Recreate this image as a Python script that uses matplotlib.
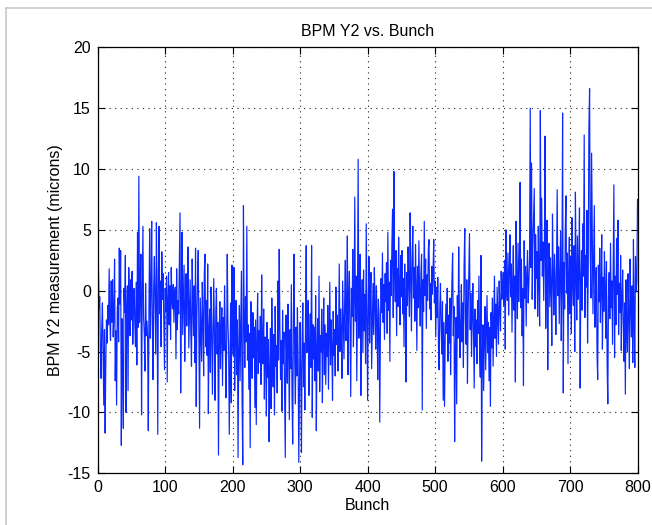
import matplotlib
matplotlib.use("Agg")
import matplotlib.pyplot as plt
from matplotlib.lines import Line2D
import numpy as np

plt.rcParams['font.family'] = ['Liberation Sans', 'DejaVu Sans']

title = "BPM Y2 vs. Bunch"
xlabel = "Bunch"
ylabel = "BPM Y2 measurement (microns)"
xticks = [0, 100, 200, 300, 400, 500, 600, 700, 800]
yticks = [-15, -10, -5, 0, 5, 10, 15, 20]

y2_values = [
    2.3, -1.5, -0.5, -4.8, -7.2, -3.1, -1.0, -5.5, -9.4, -3.2, -11.7, -6.0, -2.4, -4.3, -1.2, -2.8, 1.8, -2.5, -4.1, 0.8,
    -2.6, 0.9, -3.8, -1.9, 2.6, -7.4, -3.3, -9.4, -1.5, -0.6, -4.2, 3.5, -1.1, 3.3, -12.7, -2.3, -6.2, -11.3, 0.2, -1.8,
    2.9, -10.0, -1.6, 0.4, -8.2, 1.9, -0.6, -3.7, 0.9, -2.4, 1.6, -4.4, -0.9, 0.2, -2.7, -4.6, 0.7, -6.1, 4.8, -3.0,
    9.4, -2.6, 0.5, 3.0, -10.2, -0.4, 5.3, -2.2, -3.5, -6.6, 0.6, -3.7, -2.5, -4.0, -11.5, -1.2, 5.1, -3.9, 0.1, 5.7,
    -2.8, -7.3, 0.3, 2.8, -1.5, -5.2, 5.6, -0.3, -11.8, 1.7, 5.3, -1.9, 0.8, -4.6, 3.2, -0.7, 1.4, -2.3, -6.5, 0.2,
    -1.7, 1.2, -7.5, -0.6, 1.5, -2.8, 0.4, -4.0, 1.9, -0.9, -1.5, 0.5, -2.6, -0.2, 0.3, -5.6, 1.8, -3.2, -0.8, -1.9,
    2.0, 6.4, -8.4, -1.0, 4.8, -3.6, -0.5, 2.1, -5.8, -1.3, 1.4, -2.9, -0.1, 3.6, -4.7, -1.8, 0.9, -3.4, -6.2, 2.6,
    -1.2, -3.7, 0.4, -5.9, 3.5, -9.5, -2.1, 1.1, 3.3, -4.3, -11.3, -0.6, -3.1, -5.8, 0.7, -2.4, -7.0, 1.5, 3.0, -4.6,
    -0.8, -5.3, 2.2, -10.1, -3.4, -1.5, -6.7, 0.3, -2.9, -8.5, -4.1, 1.0, -3.6, -9.0, -1.7, 0.2, -5.2, -2.6, -13.5, -4.0,
    -0.9, -6.4, -3.1, -1.4, -7.8, -2.2, -4.9, 0.4, -3.3, -8.8, -5.1, 3.0, -2.7, -4.5, -11.8, -6.0, -1.0, -9.2, 2.1, -3.9,
    -5.3, 1.9, -8.2, -3.6, -0.8, -6.9, -2.4, -13.7, -4.8, -1.2, -7.4, -3.0, 1.6, -9.1, -14.3, 7.0, -2.1, -6.3, -0.5, -4.2,
    5.3, -5.7, -2.8, -8.1, -3.5, -12.9, -0.9, -4.6, -7.2, -1.8, -5.5, -3.0, -9.6, -2.4, -11.0, -4.2, -0.2, -6.8, -3.3, -5.9,
    -2.1, -7.7, 1.3, -4.4, -6.0, -1.5, -8.9, -3.8, -5.2, -10.3, -2.6, -7.1, -4.0, -12.4, -6.5, -3.1, -9.7, -0.6, -5.0, -7.9,
    -3.6, -10.2, -1.3, -6.2, -4.5, -8.4, 0.8, -5.7, 3.4, -2.9, -7.3, -4.1, -9.9, -1.6, -6.0, -3.4, -8.2, -13.7, -2.0, -5.3,
    -7.6, -1.1, -4.8, -10.6, -3.2, -6.4, 0.5, -8.7, -12.6, -2.5, 3.0, -5.9, -9.3, -3.0, -7.0, -1.4, -5.5, -14.1, -8.1, -2.6,
    -6.7, -13.3, -3.9, -1.0, -7.9, -4.3, -9.8, -2.2, 3.7, -5.1, -3.4, -0.8, -8.6, -4.7, -1.9, -6.3, 3.7, -10.4, -2.8, -5.6,
    -3.0, -7.4, -0.4, -11.5, -4.9, -2.3, -6.6, 1.2, -8.3, -3.7, -5.0, -1.5, -9.2, -4.1, -0.6, -6.9, -2.8, -7.7, -3.5, -5.4,
    -1.2, -8.1, -3.9, 0.7, -6.1, -2.4, -4.8, -9.0, -1.7, -5.3, -3.2, -7.0, 0.3, -4.4, -2.0, -6.6, -3.6, 2.2, -5.0, -1.5,
    -3.4, -7.2, 0.8, -2.6, -5.6, -0.9, 2.5, -4.1, -1.8, 4.5, -6.9, -0.5, 1.6, -3.3, -8.7, 0.2, -2.1, 3.4, -4.6, -1.0,
    7.7, -2.5, 1.2, -7.4, -0.8, 10.8, -3.9, -1.4, 3.0, -8.6, -2.0, 0.9, -5.1, 1.7, -3.3, -0.3, -6.0, 5.5, -2.2, -9.0,
    -1.5, 2.8, -4.3, -0.2, 1.5, -6.4, -2.9, 0.6, -3.6, 1.9, -1.1, -4.8, 0.4, -2.5, -7.3, -0.7, -2.0, -10.8, -3.2, 1.0,
    -1.8, 3.1, -2.6, 0.5, -4.0, 1.4, -0.9, 2.3, -3.5, 4.8, -1.6, 0.7, -5.8, 2.5, -0.4, 3.9, 6.7, -2.2, 9.8, 1.2,
    -0.9, 3.3, -3.7, 1.8, -1.3, 4.4, 0.2, -2.8, 2.9, -0.5, 3.3, -1.9, 1.0, -4.6, 2.2, -0.8, -7.5, 1.5, -1.2, 3.6,
    0.4, -2.1, 6.4, 1.1, -3.3, 2.7, 5.3, -0.6, 1.9, -2.5, 3.8, 0.3, -4.9, 2.0, -1.4, 4.1, -0.2, -2.9, 1.4, 3.0,
    -9.8, 0.9, -1.7, 5.7, -0.4, 2.6, -3.1, 1.3, -0.8, 3.4, 4.2, -1.5, 0.6, -2.4, 2.0, -0.3, 1.5, 4.2, -1.0, 0.8,
    -3.8, 0.3, -2.2, 1.1, -4.5, -6.5, -1.4, 0.6, -3.0, -5.2, -0.9, -9.0, -2.6, -9.5, -4.1, -1.1, -3.5, 0.2, -5.8, -2.0,
    -4.3, -0.6, -6.9, -2.4, 0.8, 3.1, -3.7, -1.3, -12.4, -5.0, -2.2, -9.3, -0.4, -3.9, 3.6, -1.6, -5.5, -2.8, 0.5, -4.2,
    -1.0, -6.3, 2.1, 5.1, -2.5, -4.4, 0.9, -7.6, -1.8, 1.7, 4.7, -3.2, -0.2, -5.4, -2.1, 0.6, -3.8, -8.0, -1.5, -4.6,
    -2.4, -6.0, -0.8, -3.5, 1.2, -4.9, -7.1, 2.9, -14.0, -5.5, -2.8, -8.2, -4.0, -1.3, -6.5, -3.2, -0.4, -5.1, -2.6, -7.4,
    -3.0, -9.5, -1.8, -4.7, -0.6, -6.2, -2.3, 1.2, -3.9, -1.1, -5.4, 0.3, -2.0, -4.4, 0.8, -1.5, -3.3, 1.6, -0.7, 0.2,
    1.5, -1.2, 2.5, -4.8, 5.0, 0.4, -0.8, 3.1, -2.0, 1.7, 4.6, -0.5, 2.2, -3.4, 0.9, 3.7, -1.6, 1.2, -7.5, 5.7,
    0.6, -2.3, 3.9, -0.9, 1.8, 8.9, -1.4, 2.6, -3.7, 0.2, -7.8, 4.1, -0.6, 2.0, -2.9, 1.3, 3.3, -1.0, 0.5, 2.7,
    15.0, 1.9, 10.5, -0.7, 3.8, 6.2, 8.4, -1.5, 4.6, 1.0, 3.2, -2.1, 5.3, 0.4, -2.9, 14.8, 2.5, 7.6, 1.2, 4.0,
    -0.8, 3.4, 12.7, -3.1, 2.1, 5.8, -6.5, 1.6, 3.9, -1.3, 2.7, 0.2, -4.5, 6.3, 1.4, -2.0, 3.0, 0.6, -3.6, 2.2,
    8.3, -0.4, 3.6, -2.7, 1.0, 4.9, -4.1, 0.8, 14.6, -8.4, 2.3, -1.5, 5.2, 7.8, -0.2, 3.1, -6.0, 1.7, 4.4, -1.9,
    2.8, -3.5, 6.0, 0.5, -1.2, 3.7, -5.0, 8.1, 1.3, -2.4, 4.5, -0.7, 2.0, 6.8, -8.0, 0.9, 3.3, -1.6, 5.5, 1.2,
    12.8, -2.2, 2.9, 0.3, 6.6, -4.3, 1.8, 13.5, 16.6, 3.0, -0.6, 11.3, 4.2, -1.9, 2.5, 7.0, -3.0, 0.7, 1.9, -5.2,
    -7.3, 2.1, -0.9, 3.5, -2.6, 0.4, 4.6, -4.8, 1.1, -1.7, 3.2, 0.0, -3.9, 2.4, -6.1, -9.3, -0.5, 1.5, -2.3, 3.9,
    -1.4, 0.8, -4.4, 2.0, 8.7, -5.5, 1.2, -2.8, 4.3, -0.3, 5.8, -3.6, 0.6, -1.8, 2.9, -4.9, -0.8, 1.7, -2.5, -5.8,
    -1.0, -8.5, 0.9, -3.2, -5.0, 1.4, -2.0, -6.4, 2.6, -1.3, -3.8, 0.4, -5.9, 4.2, -2.4, -6.3, 2.8, -0.1, 0.8, 7.5,
]
bunches = list(range(1, len(y2_values) + 1))

W, H = 652, 525
fig = plt.figure(figsize=(W / 100, H / 100), dpi=100)
fig.patch.set_facecolor('white')

# light figure frame (screenshot border)
fig.add_artist(Line2D([6 / W, 6 / W], [0, 1 - 8 / H], color='#c8c8c8', lw=1.2, transform=fig.transFigure))
fig.add_artist(Line2D([6 / W, 1], [1 - 8 / H, 1 - 8 / H], color='#c8c8c8', lw=1.2, transform=fig.transFigure))

left, right = 97.7 / W, 637.5 / W
bottom, top = (H - 473.3) / H, (H - 47.3) / H
ax = fig.add_axes([left, bottom, right - left, top - bottom])

ax.plot(bunches, y2_values, color='#0a28ff', lw=0.85)

ax.set_xlim(0, 800)
ax.set_ylim(-15, 20)
ax.set_xticks(xticks)
ax.set_yticks(yticks)
ax.set_xticklabels([str(t) for t in xticks])
ax.set_yticklabels([str(t) for t in yticks])
ax.tick_params(direction='in', length=5, width=0.8, top=True, right=True,
               labelsize=11.5, pad=5, colors='black')
ax.grid(True, color='#222222', linestyle=(0, (1, 4)), lw=0.8)
for s in ax.spines.values():
    s.set_linewidth(0.9)
    s.set_color('black')

ax.set_title(title, fontsize=11.5, pad=8)
ax.set_xlabel(xlabel, fontsize=11.5, labelpad=2)
ax.set_ylabel(ylabel, fontsize=11.5, labelpad=3)

fig.savefig('out.png', dpi=100)
